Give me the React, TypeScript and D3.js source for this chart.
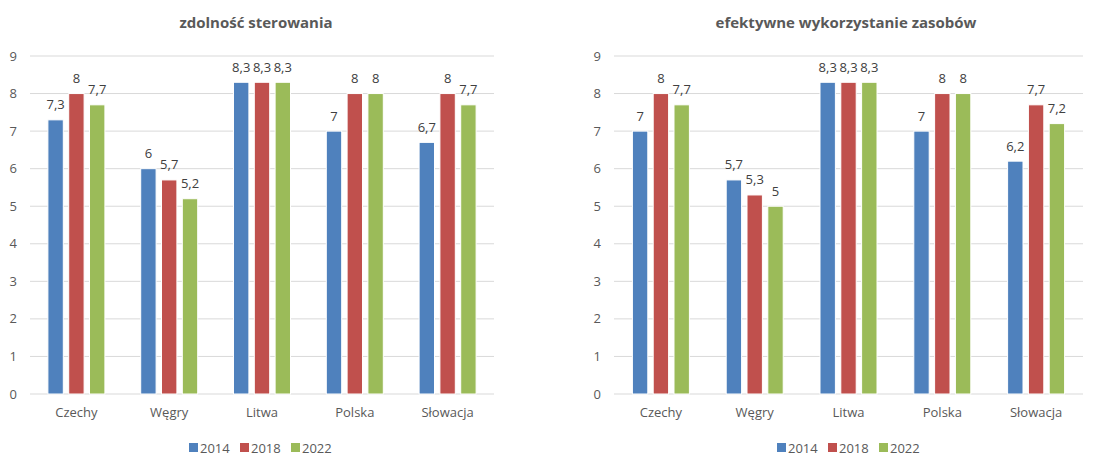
import React from "react";
import * as d3 from "d3";

const categories = ["Czechy", "Węgry", "Litwa", "Polska", "Słowacja"];
const seriesNames = ["2014", "2018", "2022"];
const seriesColors = ["#4F81BD", "#C0504D", "#9BBB59"];
const yTicks = [0, 1, 2, 3, 4, 5, 6, 7, 8, 9];

const title1 = "zdolność sterowania";
const steer2014 = [7.3, 6, 8.3, 7, 6.7];
const steer2018 = [8, 5.7, 8.3, 8, 8];
const steer2022 = [7.7, 5.2, 8.3, 8, 7.7];

const title2 = "efektywne wykorzystanie zasobów";
const eff2014 = [7, 5.7, 8.3, 7, 6.2];
const eff2018 = [8, 5.3, 8.3, 8, 7.7];
const eff2022 = [7.7, 5, 8.3, 8, 7.2];

const FONT = "'Open Sans', 'Noto Sans', sans-serif";
const fmt = (v: number) => String(v).replace(".", ",");

type ChartProps = {
  title: string;
  series: number[][];
  left: number;
  right: number;
  titleX: number;
  legendX: number;
};

function Chart({ title, series, left, right, titleX, legendX }: ChartProps) {
  const top = 56;
  const bottom = 394;
  const y = d3.scaleLinear().domain([0, 9]).range([bottom, top]);
  const x = d3.scaleBand<string>().domain(categories).range([left, right]).padding(0);
  const groupW = 57;
  const inner = d3
    .scaleBand<string>()
    .domain(seriesNames)
    .range([-groupW / 2, groupW / 2])
    .paddingInner(0.26);

  return (
    <g>
      <text x={titleX} y={28} textAnchor="middle" fontFamily={FONT} fontSize={15} fontWeight="bold" fill="#595959">
        {title}
      </text>
      {yTicks.map((t) => (
        <g key={t}>
          <line x1={left} x2={right} y1={y(t)} y2={y(t)} stroke="#D9D9D9" strokeWidth={1} />
          <text x={left - 13} y={y(t)} dy="0.35em" textAnchor="end" fontFamily={FONT} fontSize={13} fill="#595959">
            {t}
          </text>
        </g>
      ))}
      {categories.map((c, ci) => {
        const cx = (x(c) as number) + x.bandwidth() / 2;
        return (
          <g key={c}>
            {seriesNames.map((s, si) => {
              const v = series[si][ci];
              const bx = cx + (inner(s) as number);
              const bw = inner.bandwidth();
              return (
                <g key={s}>
                  <rect x={bx} y={y(v)} width={bw} height={bottom - y(v)} fill={seriesColors[si]} stroke="#fff" strokeWidth={1} />
                  <text x={bx + bw / 2} y={y(v) - 10.5} textAnchor="middle" fontFamily={FONT} fontSize={13} fill="#404040">
                    {fmt(v)}
                  </text>
                </g>
              );
            })}
            <text x={cx} y={412} dy="0.35em" textAnchor="middle" fontFamily={FONT} fontSize={13} fill="#595959">
              {c}
            </text>
          </g>
        );
      })}
      {seriesNames.map((s, si) => {
        const lx = legendX + si * 51;
        return (
          <g key={s}>
            <rect x={lx} y={443} width={9} height={9} fill={seriesColors[si]} />
            <text x={lx + 11} y={448} dy="0.35em" fontFamily={FONT} fontSize={13} fill="#595959">
              {s}
            </text>
          </g>
        );
      })}
    </g>
  );
}

export default function App() {
  return (
    <div style={{ position: "absolute", left: 0, top: 0 }}>
      <svg width={1104} height={456} style={{ display: "block", background: "#fff" }}>
        <Chart title={title1} series={[steer2014, steer2018, steer2022]} left={30} right={494} titleX={256} legendX={189} />
        <Chart title={title2} series={[eff2014, eff2018, eff2022]} left={614} right={1083} titleX={846} legendX={777} />
      </svg>
    </div>
  );
}
